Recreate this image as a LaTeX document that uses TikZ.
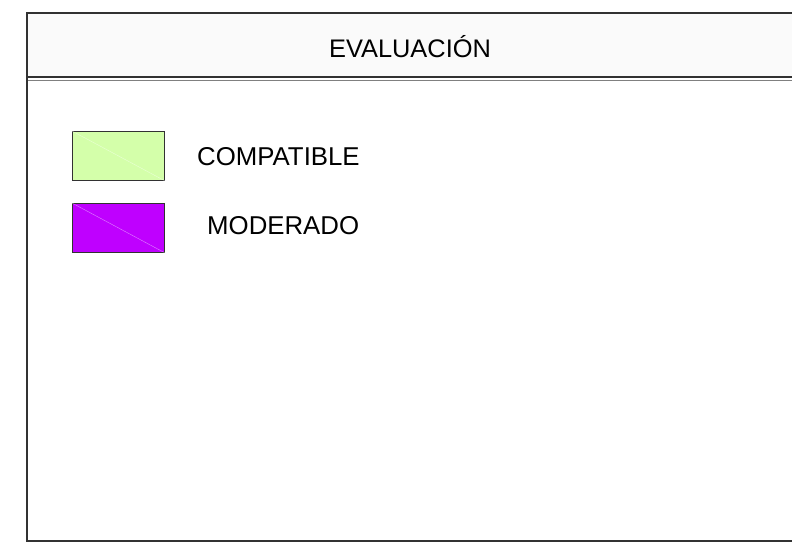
\documentclass[tikz,border=0pt]{standalone}
\usepackage{fontspec}
\setmainfont{Liberation Sans}
\definecolor{frame}{RGB}{50,50,50}
\definecolor{hdr}{RGB}{250,250,250}
\definecolor{compat}{RGB}{212,255,170}
\definecolor{moder}{RGB}{191,0,255}
\begin{document}
\begin{tikzpicture}[x=1pt,y=-1pt,
  legbox/.style={draw=frame, line width=0.8pt, minimum width=92pt, minimum height=49pt, inner sep=0pt, anchor=north west},
  legtext/.style={font=\fontsize{25.8}{30}\selectfont, inner sep=0pt, anchor=west},
  frameline/.style={draw=frame, line width=2pt}]
\useasboundingbox (0,0) rectangle (792,547);
% header band
\fill[hdr] (27,13) rectangle (792,77);
\draw[frameline] (792,13) -- (27,13) -- (27,541) -- (792,541);
\draw[frame, line width=1.2pt] (27,77) -- (792,77);
\draw[gray, line width=1.5pt] (28,80.5) -- (792,80.5);
\node[font=\fontsize{25.4}{30}\selectfont, inner sep=0pt] (title) at (410,47) {EVALUACIÓN};
% legend
\node[legbox, fill=compat] (b1) at (72,131) {};
\draw[white, opacity=0.5, line width=0.4pt] (b1.north west) -- (b1.south east);
\node[legbox, fill=moder] (b2) at (72,203) {};
\draw[white, opacity=0.5, line width=0.4pt] (b2.north west) -- (b2.south east);
\node[legtext] (t1) at (197,157) {COMPATIBLE};
\node[legtext] (t2) at (207,226) {MODERADO};
\end{tikzpicture}
\end{document}
